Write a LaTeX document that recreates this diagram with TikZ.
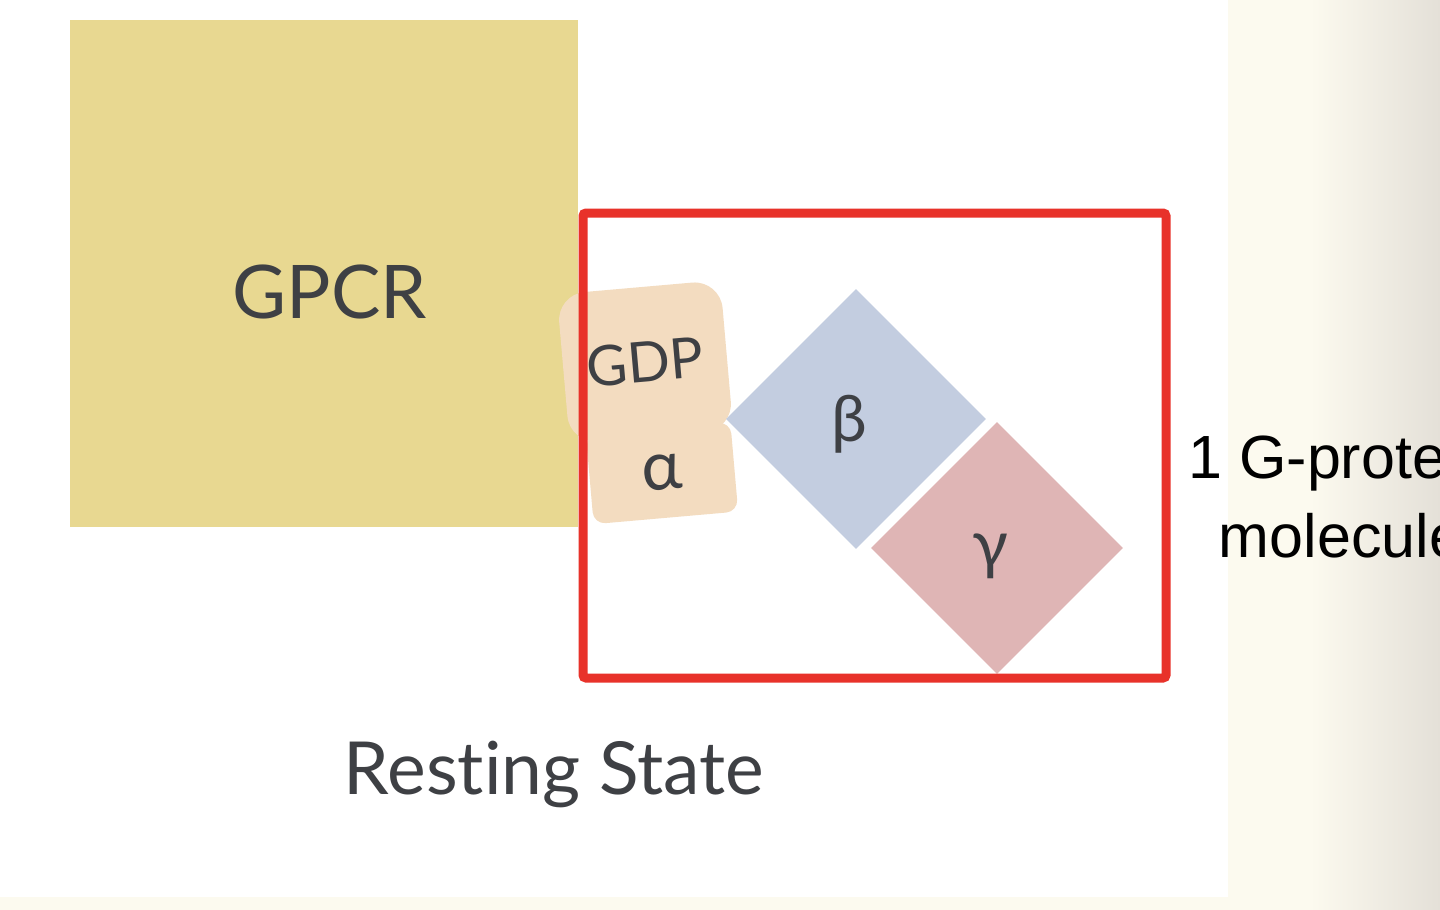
\documentclass[tikz,border=0pt]{standalone}
\usepackage{fontspec}
\setmainfont{Lato}[Ligatures=NoCommon]
\newfontfamily\arialfont{Liberation Sans}
\usepackage{tikz}
\usetikzlibrary{shapes.geometric}

\definecolor{gpcrfill}{HTML}{E8D891}
\definecolor{alphapeach}{HTML}{F3DCC0}
\definecolor{betablue}{HTML}{C3CDE0}
\definecolor{gammarose}{HTML}{DFB5B5}
\definecolor{framered}{HTML}{E8322A}
\definecolor{inkgray}{HTML}{3E4044}
\definecolor{papercream}{HTML}{FCFAEF}
\definecolor{edgegray}{HTML}{E4E0D8}

\begin{document}
\begin{tikzpicture}[x=0.5pt,y=-0.5pt,
    blob/.style={fill=alphapeach,inner sep=0pt,rotate=5,text=inkgray},
    subunit/.style={diamond,aspect=1,inner sep=0pt,minimum size=#1},
    greek/.style={text=inkgray,inner sep=0pt,font=\fontsize{#1}{36}\selectfont},
    redframe/.style={draw=framered,line width=4.5pt,rounded corners=1.5pt}]
  \useasboundingbox (0,0) rectangle (1440,910);
  \clip (0,0) rectangle (1440,910);
  % page
  \fill[papercream] (0,0) rectangle (1440,910);
  \fill[white] (0,0) rectangle (1228,897);
  \shade[left color=papercream,right color=edgegray] (1310,0) rectangle (1440,910);
  % receptor
  \node (gpcr) [fill=gpcrfill,inner sep=0pt,minimum width=254pt,minimum height=253.5pt] at (324,273.5) {};
  \node (gpcrname) [anchor=base,text=inkgray,font=\fontsize{37}{44}\selectfont] at (330,318) {GPCR};
  % G protein
  \node (gdp) [blob,minimum width=82pt,minimum height=75pt,rounded corners=14pt,font=\fontsize{28}{34}\selectfont] at (645,362) {GDP};
  \node (alpha) [blob,minimum width=72.5pt,minimum height=45pt,rounded corners=6pt,font=\fontsize{34}{40}\selectfont] at (662,473) {α};
  \node (beta) [subunit=130pt,fill=betablue] at (856,419) {};
  \node (gamma) [subunit=126pt,fill=gammarose] at (997,548) {};
  \node (betaname) [greek=32] at (849,424) {β};
  \node (gammaname) [greek=33] at (990,556) {γ};
  \draw[redframe] (583,213) rectangle (1166,678);
  %\node at (583,213) {};
  \node (count) [align=center,font=\arialfont\fontsize{30.5}{39.5}\selectfont] at (1341,496) {1 G-protein\\molecule};
  \node (state) [anchor=base,text=inkgray,font=\fontsize{36.6}{42}\selectfont] at (554,794) {Resting State};
\end{tikzpicture}
\end{document}
